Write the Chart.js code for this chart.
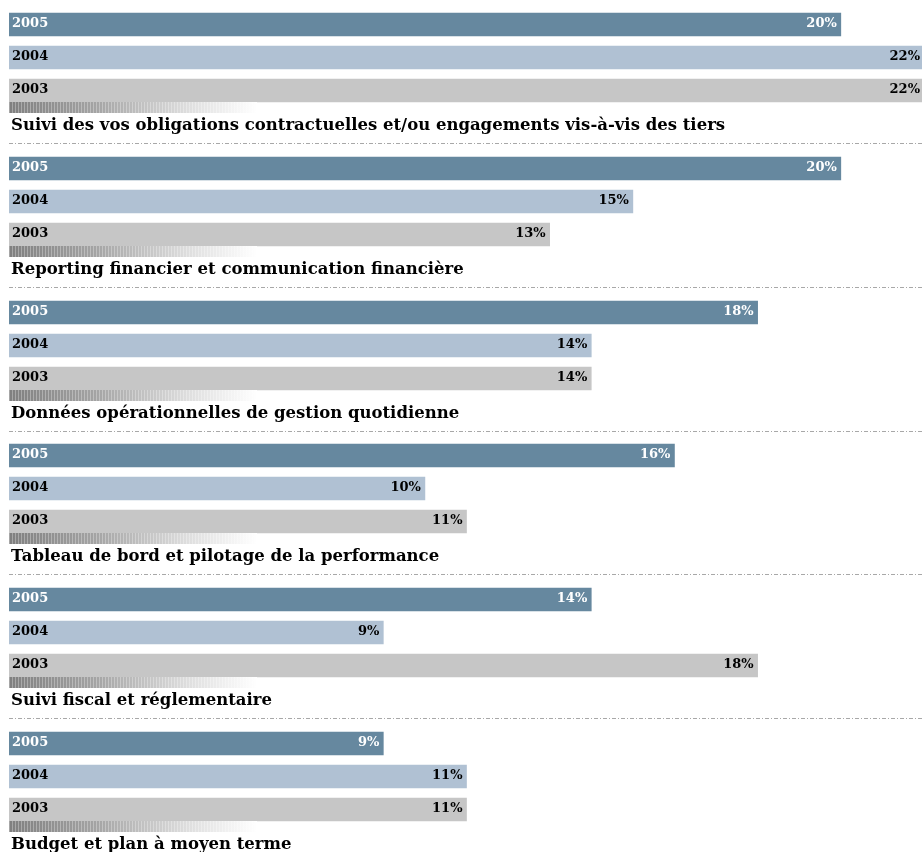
<!DOCTYPE html>
<html>
<head>
<meta charset="utf-8">
<script src="https://cdn.jsdelivr.net/npm/chart.js@4.4.1/dist/chart.umd.min.js"></script>
<style>
  html, body { margin: 0; padding: 0; background: #fff; overflow: hidden; }
  body { width: 922px; height: 852px; position: relative; }
  .group { position: absolute; left: 0; width: 922px; height: 140px; }
  .group canvas { position: absolute; left: 9px; top: -5px; }
  .stripe {
    position: absolute; left: 9px; top: 89px; width: 248px; height: 11px;
    background:
      repeating-linear-gradient(90deg, rgba(255,255,255,0.3) 0 1px, rgba(255,255,255,0) 1px 3px),
      linear-gradient(90deg, #7f7f7f 0%, #a4a4a4 35%, #dedede 72%, #ffffff 100%);
  }
  .title {
    position: absolute; left: 11px; top: 102px; white-space: nowrap;
    font: bold 16.5px "DejaVu Serif", serif; color: #000;
  }
  .sep {
    position: absolute; left: 9px; top: 130px; width: 913px; height: 1px;
    background: repeating-linear-gradient(90deg, #a8a8a8 0 4px, transparent 4px 6px, #a8a8a8 6px 7px, transparent 7px 9px);
  }
</style>
</head>
<body>
<script>
// Catégories et pourcentages par année
var categories = [
  "Suivi des vos obligations contractuelles et/ou engagements vis-à-vis des tiers",
  "Reporting financier et communication financière",
  "Données opérationnelles de gestion quotidienne",
  "Tableau de bord et pilotage de la performance",
  "Suivi fiscal et réglementaire",
  "Budget et plan à moyen terme"
];
var years = ["2005", "2004", "2003"];
var values2005 = [20, 20, 18, 16, 14, 9];
var values2004 = [22, 15, 14, 10, 9, 11];
var values2003 = [22, 13, 14, 11, 18, 11];

var barColors = ["#66889f", "#b0c1d3", "#c6c6c6"];
var textColors = ["#ffffff", "#000000", "#000000"];

// Texte dans les barres : année à gauche, valeur à droite
var barLabels = {
  id: 'barLabels',
  afterDatasetsDraw: function(chart) {
    var ctx = chart.ctx;
    var meta = chart.getDatasetMeta(0);
    ctx.save();
    ctx.font = 'bold 13px "DejaVu Serif", serif';
    ctx.textBaseline = 'middle';
    meta.data.forEach(function(bar, i) {
      ctx.fillStyle = textColors[i];
      ctx.textAlign = 'left';
      ctx.fillText(years[i], bar.base + 3, bar.y - 1);
      ctx.textAlign = 'right';
      ctx.fillText(chart.data.datasets[0].data[i] + '%', bar.x - 4, bar.y - 1);
    });
    ctx.restore();
  }
};

function makeGroup(index) {
  var div = document.createElement('div');
  div.className = 'group';
  div.style.top = Math.round(13 + index * 143.8) + 'px';

  var canvas = document.createElement('canvas');
  canvas.width = 915;
  canvas.height = 99;
  canvas.style.width = '915px';
  canvas.style.height = '99px';
  div.appendChild(canvas);

  var stripe = document.createElement('div');
  stripe.className = 'stripe';
  div.appendChild(stripe);

  var title = document.createElement('div');
  title.className = 'title';
  title.textContent = categories[index];
  div.appendChild(title);

  if (index < categories.length - 1) {
    var sep = document.createElement('div');
    sep.className = 'sep';
    div.appendChild(sep);
  }
  document.body.appendChild(div);

  new Chart(canvas.getContext('2d'), {
    type: 'bar',
    data: {
      labels: years,
      datasets: [{
        data: [values2005[index], values2004[index], values2003[index]],
        backgroundColor: barColors,
        barThickness: 23,
        categoryPercentage: 1
      }]
    },
    options: {
      indexAxis: 'y',
      responsive: false,
      animation: false,
      events: [],
      layout: { padding: 0 },
      plugins: { legend: { display: false }, tooltip: { enabled: false } },
      scales: {
        x: { display: false, min: 0, max: 22 },
        y: { display: false }
      }
    },
    plugins: [barLabels]
  });
}

categories.forEach(function(c, i) { makeGroup(i); });
</script>
</body>
</html>
